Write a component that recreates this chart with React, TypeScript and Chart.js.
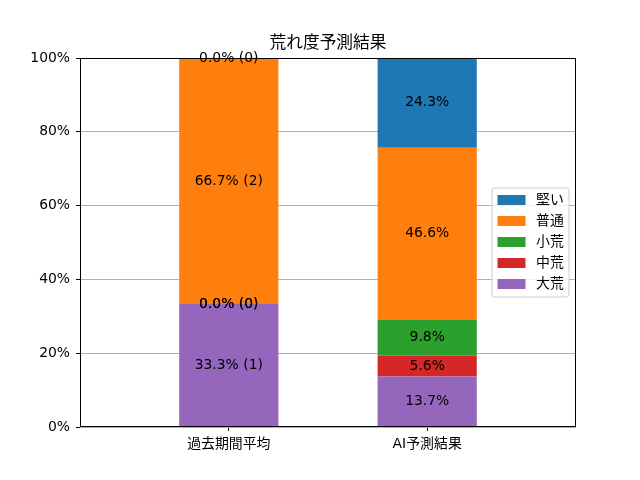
import React, { useEffect, useRef } from "react";
import { Chart, registerables } from "chart.js";

Chart.register(...registerables);

const categories = ["過去期間平均", "AI予測結果"];
const seriesNames = ["大荒", "中荒", "小荒", "普通", "堅い"];
const seriesColors = ["#9467bd", "#d62728", "#2ca02c", "#ff7f0e", "#1f77b4"];
// percentages per series: [past, AI]
const daiare = [33.3, 13.7];
const chuare = [0.0, 5.6];
const shoare = [0.0, 9.8];
const futsu = [66.7, 46.6];
const katai = [0.0, 24.3];
// counts for the past-period bar
const pastCounts = [1, 0, 0, 2, 0];
const yTicks = [0, 20, 40, 60, 80, 100];
const title = "荒れ度予測結果";

const FONT = '"DejaVu Sans", "Noto Sans CJK JP", sans-serif';

export default function App() {
  const ref = useRef<HTMLCanvasElement | null>(null);
  useEffect(() => {
    if (!ref.current) return;
    const seriesValues = [daiare, chuare, shoare, futsu, katai];
    const datasets = seriesNames.map((name, si) => ({
      label: name,
      data: seriesValues[si].map((v, ci) => ({ x: ci, y: v })),
      backgroundColor: seriesColors[si],
      borderWidth: 0,
      categoryPercentage: 1,
      barPercentage: 0.5,
    }));

    const overlay = {
      id: "overlay",
      afterDatasetsDraw(chart: any) {
        const ctx = chart.ctx;
        const a = chart.chartArea;
        ctx.save();
        // frame
        ctx.strokeStyle = "#000";
        ctx.lineWidth = 1;
        ctx.strokeRect(Math.round(a.left) + 0.5, Math.round(a.top) + 0.5, Math.round(a.right - a.left) - 1, Math.round(a.bottom - a.top) - 1);
        // data labels
        ctx.font = `13.9px ${FONT}`;
        ctx.fillStyle = "#000";
        ctx.textAlign = "center";
        ctx.textBaseline = "middle";
        chart.data.datasets.forEach((ds: any, si: number) => {
          const meta = chart.getDatasetMeta(si);
          meta.data.forEach((el: any, ci: number) => {
            const v = ds.data[ci].y;
            const txt = ci === 0 ? `${v.toFixed(1)}% (${pastCounts[si]})` : `${v.toFixed(1)}%`;
            ctx.fillText(txt, el.x, (el.y + el.base) / 2);
          });
        });
        // title
        ctx.font = `16.7px ${FONT}`;
        ctx.fillText(title, (a.left + a.right) / 2, 44);
        // legend
        const lx = 492, ly = 188, lw = 77, lh = 109;
        ctx.beginPath();
        const r = 3;
        ctx.moveTo(lx + r, ly);
        ctx.lineTo(lx + lw - r, ly);
        ctx.arcTo(lx + lw, ly, lx + lw, ly + r, r);
        ctx.lineTo(lx + lw, ly + lh - r);
        ctx.arcTo(lx + lw, ly + lh, lx + lw - r, ly + lh, r);
        ctx.lineTo(lx + r, ly + lh);
        ctx.arcTo(lx, ly + lh, lx, ly + lh - r, r);
        ctx.lineTo(lx, ly + r);
        ctx.arcTo(lx, ly, lx + r, ly, r);
        ctx.closePath();
        ctx.fillStyle = "rgba(255,255,255,0.8)";
        ctx.fill();
        ctx.strokeStyle = "#cccccc";
        ctx.stroke();
        ctx.font = `13.9px ${FONT}`;
        ctx.textAlign = "left";
        const order = [4, 3, 2, 1, 0];
        order.forEach((si, row) => {
          const cy = 200 + row * 21;
          ctx.fillStyle = seriesColors[si];
          ctx.fillRect(497.5, cy - 5, 28, 10);
          ctx.fillStyle = "#000";
          ctx.fillText(seriesNames[si], 536, cy);
        });
        ctx.restore();
      },
    };

    const chart = new Chart(ref.current, {
      type: "bar",
      data: { datasets: datasets as any },
      options: {
        animation: false,
        responsive: false,
        devicePixelRatio: 1,
        layout: { padding: { top: 58, right: 64, left: 0, bottom: 0 } },
        plugins: { legend: { display: false }, title: { display: false }, tooltip: { enabled: false } },
        scales: {
          x: {
            type: "linear",
            stacked: true,
            offset: false,
            min: -0.75,
            max: 1.75,
            afterBuildTicks: (scale: any) => {
              scale.ticks = categories.map((_, i) => ({ value: i }));
            },
            afterFit: (scale: any) => {
              scale.height = 53;
            },
            ticks: {
              callback: (v: any) => categories[v as number] ?? "",
              color: "#000",
              font: { family: FONT, size: 13.9 },
              padding: 5,
              maxRotation: 0,
              autoSkip: false,
            },
            grid: { offset: false, drawOnChartArea: false, drawTicks: true, tickLength: 4, tickColor: "#000" },
            border: { display: false },
          },
          y: {
            stacked: true,
            min: 0,
            max: 100,
            afterBuildTicks: (scale: any) => {
              scale.ticks = yTicks.map((v) => ({ value: v }));
            },
            afterFit: (scale: any) => {
              scale.width = 80;
            },
            ticks: {
              callback: (v: any) => `${v}%`,
              color: "#000",
              font: { family: FONT, size: 13.9 },
              padding: 6,
            },
            grid: { color: "#b0b0b0", lineWidth: 1, tickLength: 4, tickColor: "#000" },
            border: { display: false },
          },
        },
      },
      plugins: [overlay],
    } as any);
    return () => chart.destroy();
  }, []);
  return (
    <div style={{ position: "absolute", left: 0, top: 0, width: 640, height: 480, background: "#fff" }}>
      <canvas ref={ref} width={640} height={480} />
    </div>
  );
}
